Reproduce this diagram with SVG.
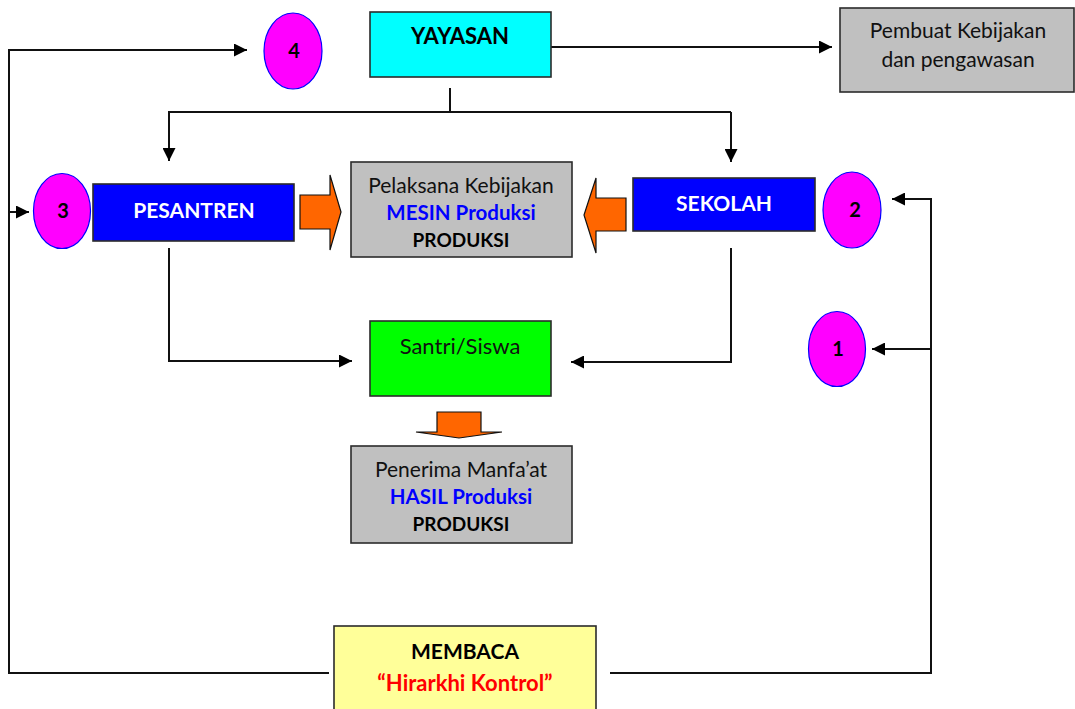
<svg xmlns="http://www.w3.org/2000/svg" width="1075" height="709" viewBox="0 0 1075 709">
<style>
.box{stroke:#2b2b2b;stroke-width:1.6}
.gray{fill:#C0C0C0}
.blue{fill:#0000FF}
.num{fill:#FF00FF;stroke:#0000FF;stroke-width:1.2}
.ln{fill:none;stroke:#111;stroke-width:2}
.blk{fill:#FF6600;stroke:#111;stroke-width:1.2}
text{font-family:Lato,"Open Sans","Liberation Sans",sans-serif;text-anchor:middle}
.t{font-size:21px;fill:#111}
.b{font-size:21px;font-weight:bold;fill:#000}
.w{font-size:21px;font-weight:bold;fill:#fff}
.bl{font-size:20.5px;font-weight:bold;fill:#0000FF}
.p{font-size:19px;font-weight:bold;fill:#000}
.n{font-size:20px;font-weight:bold;fill:#000}
</style>
<defs>
<marker id="ah" viewBox="0 0 10 10" refX="10" refY="5" markerWidth="13" markerHeight="13" markerUnits="userSpaceOnUse" orient="auto">
<path d="M0,0 L10,5 L0,10 z" fill="#000"/>
</marker>
</defs>
<g id="connectors">
<polyline class="ln" points="329,673 9,673 9,50 247,50" marker-end="url(#ah)"/>
<line class="ln" x1="9" y1="212" x2="29" y2="212" marker-end="url(#ah)"/>
<line class="ln" x1="551" y1="47" x2="832" y2="47" marker-end="url(#ah)"/>
<line class="ln" x1="450" y1="88" x2="450" y2="112"/>
<polyline class="ln" points="731,112 169,112 169,161" marker-end="url(#ah)"/>
<line class="ln" x1="731" y1="112" x2="731" y2="162" marker-end="url(#ah)"/>
<polyline class="ln" points="610,673 931,673 931,199 892,199" marker-end="url(#ah)"/>
<line class="ln" x1="931" y1="349" x2="872" y2="349" marker-end="url(#ah)"/>
<polyline class="ln" points="731,248 731,362 571,362" marker-end="url(#ah)"/>
<polyline class="ln" points="169,248 169,361 352,361" marker-end="url(#ah)"/>
</g>
<g id="yayasan">
<rect class="box" x="370" y="12" width="181" height="65" fill="#00FFFF"/>
<text class="b" x="460" y="44" style="font-size:22px">YAYASAN</text>
</g>
<g id="pembuat">
<rect class="box gray" x="840" y="8" width="234" height="84"/>
<text class="t" x="958" y="38">Pembuat Kebijakan</text>
<text class="t" x="958" y="67">dan pengawasan</text>
</g>
<g id="num4">
<ellipse class="num" cx="293" cy="51" rx="29" ry="38"/>
<text class="n" x="294" y="58">4</text>
</g>
<g id="num3">
<ellipse class="num" cx="62" cy="211" rx="28.5" ry="37.5"/>
<text class="n" x="63" y="218">3</text>
</g>
<g id="num2">
<ellipse class="num" cx="852" cy="210" rx="29" ry="38"/>
<text class="n" x="855" y="217">2</text>
</g>
<g id="num1">
<ellipse class="num" cx="837" cy="349" rx="28.5" ry="37.5"/>
<text class="n" x="838" y="356">1</text>
</g>
<g id="pesantren">
<rect class="box blue" x="93" y="184" width="201" height="57"/>
<text class="w" x="194" y="218">PESANTREN</text>
</g>
<g id="sekolah">
<rect class="box blue" x="633" y="178" width="182" height="53"/>
<text class="w" x="724" y="211">SEKOLAH</text>
</g>
<g id="arrow-right">
<polygon class="blk" points="300,195 330,195 330,175 341,212 330,250 330,229 300,229"/>
</g>
<g id="arrow-left">
<polygon class="blk" points="626,198 596,198 596,178 584,215 596,253 596,231 626,231"/>
</g>
<g id="pelaksana">
<rect class="box gray" x="351" y="162" width="221" height="95"/>
<text class="t" x="461" y="193">Pelaksana Kebijakan</text>
<text class="bl" x="461" y="220">MESIN Produksi</text>
<text class="p" x="461" y="247">PRODUKSI</text>
</g>
<g id="santri">
<rect class="box" x="370" y="321" width="181" height="75" fill="#00FF00"/>
<text class="t" x="460" y="354" style="font-size:22px">Santri/Siswa</text>
</g>
<g id="arrow-down">
<polygon class="blk" points="437,412 481,412 481,432 502,432 459,438 416,432 437,432"/>
</g>
<g id="penerima">
<rect class="box gray" x="351" y="446" width="221" height="97"/>
<text class="t" x="461" y="477">Penerima Manfa’at</text>
<text class="bl" x="461" y="504">HASIL Produksi</text>
<text class="p" x="461" y="531">PRODUKSI</text>
</g>
<g id="membaca">
<rect class="box" x="334" y="626" width="262" height="90" fill="#FFFF99"/>
<text class="b" x="465" y="659">MEMBACA</text>
<text x="465" y="691" style="font-size:22px;font-weight:bold;fill:#FF0000">“Hirarkhi Kontrol”</text>
</g>
</svg>
